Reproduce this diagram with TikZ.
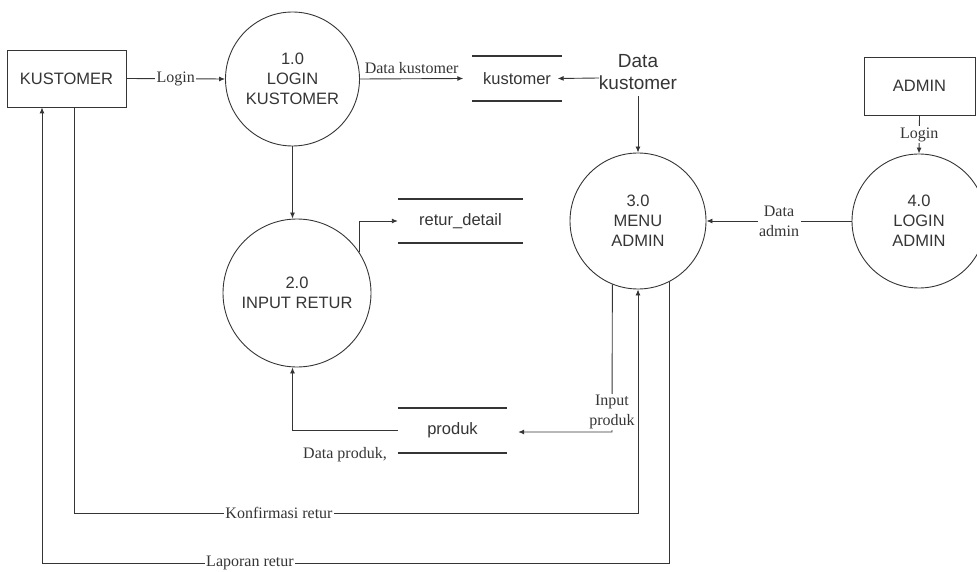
\documentclass[tikz,border=0pt]{standalone}
\usepackage{fontspec}
\setmainfont{Liberation Serif}
\setsansfont{Liberation Sans}
\usetikzlibrary{arrows.meta}
\definecolor{ink}{HTML}{353535}
\begin{document}
\begin{tikzpicture}[x=1pt,y=-1pt,
  flow/.style={draw=ink,line width=0.9pt},
  arr/.style={flow,-{Latex[length=6pt,width=5pt]}},
  sanstext/.style={font=\sffamily\fontsize{16.5}{20}\selectfont,text=ink},
  serifnote/.style={font=\fontsize{16}{20}\selectfont,text=ink,align=center},
  proc/.style={circle,draw=ink,line width=0.9pt,inner sep=0pt,align=center,sanstext},
  entity/.style={rectangle,draw=ink,line width=0.9pt,inner sep=0pt,sanstext},
  store/.style={inner sep=0pt,sanstext,
    append after command={
      (\tikzlastnode.north west) edge[draw=ink,line width=1.7pt] (\tikzlastnode.north east)
      (\tikzlastnode.south west) edge[draw=ink,line width=1.7pt] (\tikzlastnode.south east)}},
  lbl/.style={serifnote,fill=white,inner sep=1.5pt},
]
\useasboundingbox (0,0) rectangle (977,572);
\clip (0,0) rectangle (977,572);

% external entities
\node[entity,minimum width=119pt,minimum height=57pt] (kust) at (66.5,78.5) {KUSTOMER};
\node[entity,minimum width=111pt,minimum height=58pt] (adm) at (919.5,86) {ADMIN};

% processes
\node[proc,minimum size=134pt] (p1) at (292.5,79) {1.0\\LOGIN\\KUSTOMER};
\node[proc,minimum size=148pt] (p2) at (297,293) {2.0\\INPUT RETUR};
\node[proc,minimum size=136pt] (p3) at (638,221) {3.0\\MENU\\ADMIN};
\node[proc,minimum size=134pt] (p4) at (919,221) {4.0\\LOGIN\\ADMIN};

% data stores
\node[store,minimum width=89pt,minimum height=45pt] (ks) at (517,78.5) {kustomer};
\node[store,minimum width=125pt,minimum height=44pt] (rd) at (460.5,221) {retur\_detail};
\node[store,minimum width=109pt,minimum height=45pt] (ps) at (452.5,430.5) {produk};

% helper points for the routed flows
\coordinate (kr) at ([xshift=7.5pt]kust.south);
\coordinate (kl) at ([xshift=-24.5pt]kust.south);
\coordinate (kb) at (0,513);
\coordinate (lb) at (0,563);
\coordinate (ipc) at (612,432);
\coordinate (pe) at ([xshift=11pt]ps.east);
\coordinate (dkl) at (599,78);

% flows
\draw[arr] (kust.east) -- node[lbl] (lg1) {Login} (p1.west);
\draw[arr] (p1.east) -- node[serifnote,above=1pt] (dk1) {Data kustomer} ([xshift=-9pt]ks.west);
\node[sanstext,font=\sffamily\fontsize{19}{22}\selectfont,align=center] (dk) at (638,72) {Data\\kustomer};
\draw[arr] (dkl) -- ([xshift=-4pt]ks.east);
\draw[arr,shorten <=3pt] (dk.south) -- (p3.north);
\draw[arr] (p1.south) -- (p1.south |- p2.north);
\draw[arr] (p2.33) |- (rd.west);
\draw[arr] (ps.west) -| (p1.south |- p2.south);
\draw[arr] (adm.south) -- node[lbl] (lg2) {Login} (p4.north);
\draw[arr] (p4.west) -- node[lbl] (da) {Data\\admin} (p3.east);
\draw[arr] (p3.248) -- (ipc) -- (ipc -| pe);
\draw[arr] (kr) |- (kb -| p3.south) -- (p3.south);
\draw[arr] (p3.-63) |- (kl |- lb) -- (kl);

% flow labels
\node[lbl] (ip) at (612,412) {Input\\produk};
\node[lbl] (kf) at (279,513) {Konfirmasi retur};
\node[lbl] (lp) at (250,563) {Laporan retur};
\node[serifnote] (dp) at (345,455) {Data produk,};
\end{tikzpicture}
\end{document}
